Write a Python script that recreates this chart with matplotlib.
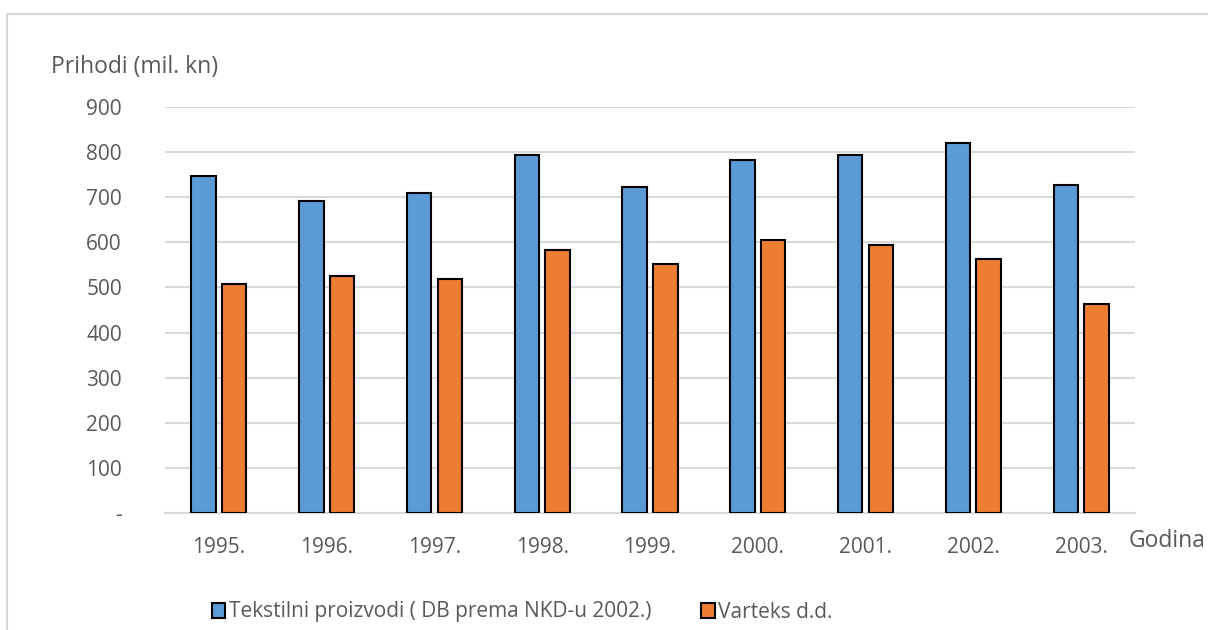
import numpy as np
import matplotlib.pyplot as plt

years = ['1995.', '1996.', '1997.', '1998.', '1999.', '2000.', '2001.', '2002.', '2003.']
tekstil = [748, 692, 710, 794, 723, 782, 794, 820, 728]
varteks = [508, 525, 518, 583, 551, 605, 593, 563, 463]
yticks = [0, 100, 200, 300, 400, 500, 600, 700, 800, 900]
ytick_labels = ['-', '100', '200', '300', '400', '500', '600', '700', '800', '900']

plt.rcParams['font.family'] = ['Open Sans', 'DejaVu Sans']
grey = '#595959'

fig = plt.figure(figsize=(12.08, 6.3), dpi=100)
ax = fig.add_axes([165 / 1208, 1 - 513 / 630, 970 / 1208, 406 / 630])

# light frame around the whole chart
frame = plt.Rectangle((7 / 1208, -0.1), 1.2, 1 - 14 / 630 + 0.1, transform=fig.transFigure,
                      fill=False, edgecolor='#d9d9d9', linewidth=1.5, zorder=0)
fig.patches.append(frame)

x = np.arange(len(years))
w = 0.227
ax.bar(x - 0.142, tekstil, w, color='#5b9bd5', edgecolor='black', linewidth=1.5,
       label='Tekstilni proizvodi ( DB prema NKD-u 2002.)', zorder=3)
ax.bar(x + 0.142, varteks, w, color='#ed7d31', edgecolor='black', linewidth=1.5,
       label='Varteks d.d.', zorder=3)

ax.set_xlim(-0.5, len(years) - 0.5)
ax.set_ylim(0, 900)
ax.set_yticks(yticks)
ax.set_yticklabels(ytick_labels)
ax.set_xticks(x)
ax.set_xticklabels(years)
ax.yaxis.grid(True, color='#d9d9d9', linewidth=1.5, zorder=0)
for s in ['top', 'right', 'left']:
    ax.spines[s].set_visible(False)
ax.spines['bottom'].set_color('#d9d9d9')
ax.spines['bottom'].set_linewidth(1.5)
ax.tick_params(axis='both', length=0, labelsize=15, labelcolor=grey)
ax.tick_params(axis='y', pad=31)
ax.tick_params(axis='x', pad=17)

fig.text(51 / 1208, 1 - 67 / 630, 'Prihodi (mil. kn)', fontsize=16.5, color=grey, va='center', ha='left')
fig.text(1129 / 1208, 1 - 541 / 630, 'Godina', fontsize=16.5, color=grey, va='center', ha='left')

fig.legend(loc='center', bbox_to_anchor=(522 / 1208, 1 - 612 / 630), ncol=2, frameon=False,
           fontsize=15, labelcolor=grey, handlelength=0.65, handleheight=0.75,
           handletextpad=0.15, columnspacing=2.4, borderpad=0, borderaxespad=0)

fig.savefig('out.png', dpi=100)
